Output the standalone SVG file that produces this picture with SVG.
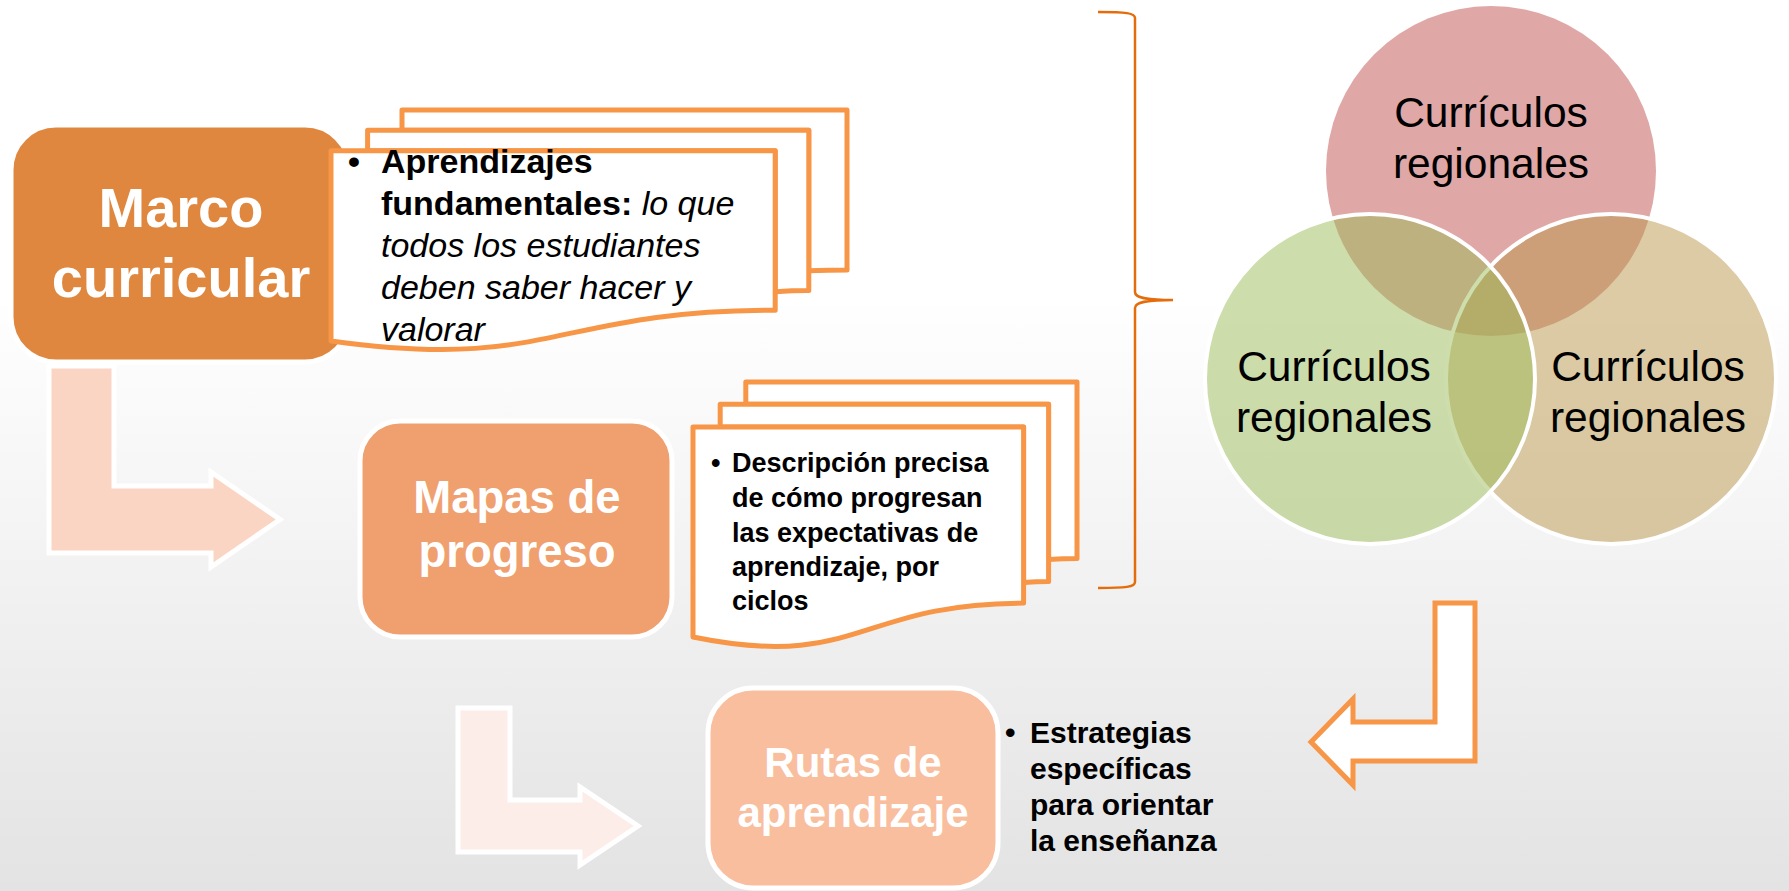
<svg xmlns="http://www.w3.org/2000/svg" width="1789" height="891" viewBox="0 0 1789 891">
  <defs>
    <linearGradient id="bg" x1="0" y1="0" x2="0" y2="1">
      <stop offset="0" stop-color="#FFFFFF"/>
      <stop offset="0.33" stop-color="#FFFFFF"/>
      <stop offset="1" stop-color="#E3E3E3"/>
    </linearGradient>
    <style>
      .box { stroke: #FFFFFF; stroke-width: 5; }
      .boxtxt { font-family: "Liberation Sans", Arial, sans-serif; font-weight: bold; fill: #FFFFFF; text-anchor: middle; }
      .sheet { fill: #FFFFFF; stroke: #F79646; stroke-width: 5; stroke-linejoin: round; }
      .doc { font-family: "Liberation Sans", Arial, sans-serif; fill: #000000; }
      .b { font-weight: bold; }
      .i { font-style: italic; }
      .venn { font-family: "Liberation Sans", Arial, sans-serif; font-size: 42.5px; fill: #000000; text-anchor: middle; }
      .bent { stroke: #FFFFFF; stroke-width: 5; stroke-linejoin: miter; }
    </style>
  </defs>

  <rect x="0" y="0" width="1789" height="891" fill="url(#bg)"/>

  <g id="connectors">
    <path id="arrow-marco-mapas" class="bent" fill="#FAD5C3" d="M49,366 L114,366 L114,486 L211,486 L211,472 L280,519.5 L211,567 L211,553 L49,553 Z"/>
    <path id="arrow-mapas-rutas" class="bent" fill="#FCEDE8" d="M458,708 L510,708 L510,800 L580,800 L580,787 L638,826 L580,865 L580,852 L458,852 Z"/>
    <path id="arrow-venn-rutas" fill="#FFFFFF" stroke="#F79646" stroke-width="5" d="M1435,603 L1475,603 L1475,761 L1353,761 L1353,785 L1311,742 L1353,699 L1353,722 L1435,722 Z"/>
    <path id="brace" fill="none" stroke="#E46C0A" stroke-width="2.5" d="M1098,12 C1126,12 1135,13 1135,18 L1135,292 C1135,298 1146,300 1173,300 C1146,300 1135,302 1135,308 L1135,582 C1135,587 1126,588 1098,588"/>
  </g>

  <g id="marco">
    <rect class="box" x="11" y="125" width="339" height="237" rx="45" fill="#E0873F"/>
    <text class="boxtxt" font-size="56" x="181" y="227">Marco</text>
    <text class="boxtxt" font-size="56" x="181" y="297">curricular</text>
  </g>

  <g id="marco-docs">
    <path class="sheet" d="M402,130.2 L402,110 L847,110 L847,269.9 C827.9,269.9 808.8,270.7 808.8,270.7 L808.8,130.2 Z"/>
    <path class="sheet" d="M367.6,150.8 L367.6,130.2 L808.8,130.2 L808.8,290.6 C792,290.6 775.2,291.7 775.2,291.7 L775.2,150.8 Z"/>
    <path class="sheet" d="M331,340.9 C553.1,371.6 553.1,310.2 775.2,310.2 L775.2,150.8 L331,150.8 Z"/>
    <g class="doc" font-size="34">
      <text x="348" y="173" class="b">•</text>
      <text x="381" y="173" class="b">Aprendizajes</text>
      <text x="381" y="215"><tspan class="b">fundamentales:</tspan><tspan class="i"> lo que</tspan></text>
      <text x="381" y="257" class="i">todos los estudiantes</text>
      <text x="381" y="299" class="i">deben saber hacer y</text>
      <text x="381" y="341" class="i">valorar</text>
    </g>
  </g>

  <g id="mapas">
    <rect class="box" x="360" y="421" width="312" height="216" rx="40" fill="#EFA06E"/>
    <text class="boxtxt" font-size="45.5" x="517" y="513">Mapas de</text>
    <text class="boxtxt" font-size="45.5" x="517" y="567">progreso</text>
  </g>

  <g id="mapas-docs">
    <path class="sheet" d="M745.8,404.3 L745.8,382 L1077,382 L1077,558.6 C1062.8,558.6 1048.6,559.5 1048.6,559.5 L1048.6,404.3 Z"/>
    <path class="sheet" d="M720.2,427.1 L720.2,404.3 L1048.6,404.3 L1048.6,581.4 C1036.1,581.4 1023.6,582.6 1023.6,582.6 L1023.6,427.1 Z"/>
    <path class="sheet" d="M693,637 C858.3,670.8 858.3,603.1 1023.6,603.1 L1023.6,427.1 L693,427.1 Z"/>
    <g class="doc b" font-size="27">
      <text x="711" y="472">•</text>
      <text x="732" y="472">Descripción precisa</text>
      <text x="732" y="507">de cómo progresan</text>
      <text x="732" y="542">las expectativas de</text>
      <text x="732" y="576">aprendizaje, por</text>
      <text x="732" y="610">ciclos</text>
    </g>
  </g>

  <g id="rutas">
    <rect class="box" x="708" y="688" width="290" height="200" rx="45" fill="#F8BE9E"/>
    <text class="boxtxt" font-size="42" x="853" y="777">Rutas de</text>
    <text class="boxtxt" font-size="42" x="853" y="827">aprendizaje</text>
  </g>

  <g id="rutas-text" class="doc b" font-size="30">
    <text x="1005" y="743">•</text>
    <text x="1030" y="743">Estrategias</text>
    <text x="1030" y="779">específicas</text>
    <text x="1030" y="815">para orientar</text>
    <text x="1030" y="851">la enseñanza</text>
  </g>

  <g id="venn">
    <g id="venn-top">
      <circle cx="1491" cy="171" r="165" fill="#C0504D" fill-opacity="0.5"/>
    </g>
    <g id="venn-right">
      <circle cx="1611" cy="379" r="165" fill="#B9974B" fill-opacity="0.5" stroke="#FFFFFF" stroke-width="4"/>
    </g>
    <g id="venn-left">
      <circle cx="1370" cy="379" r="165" fill="#9BBB59" fill-opacity="0.5" stroke="#FFFFFF" stroke-width="4"/>
    </g>
    <text class="venn" x="1491" y="127">Currículos</text>
    <text class="venn" x="1491" y="178">regionales</text>
    <text class="venn" x="1334" y="381">Currículos</text>
    <text class="venn" x="1334" y="432">regionales</text>
    <text class="venn" x="1648" y="381">Currículos</text>
    <text class="venn" x="1648" y="432">regionales</text>
  </g>
</svg>
